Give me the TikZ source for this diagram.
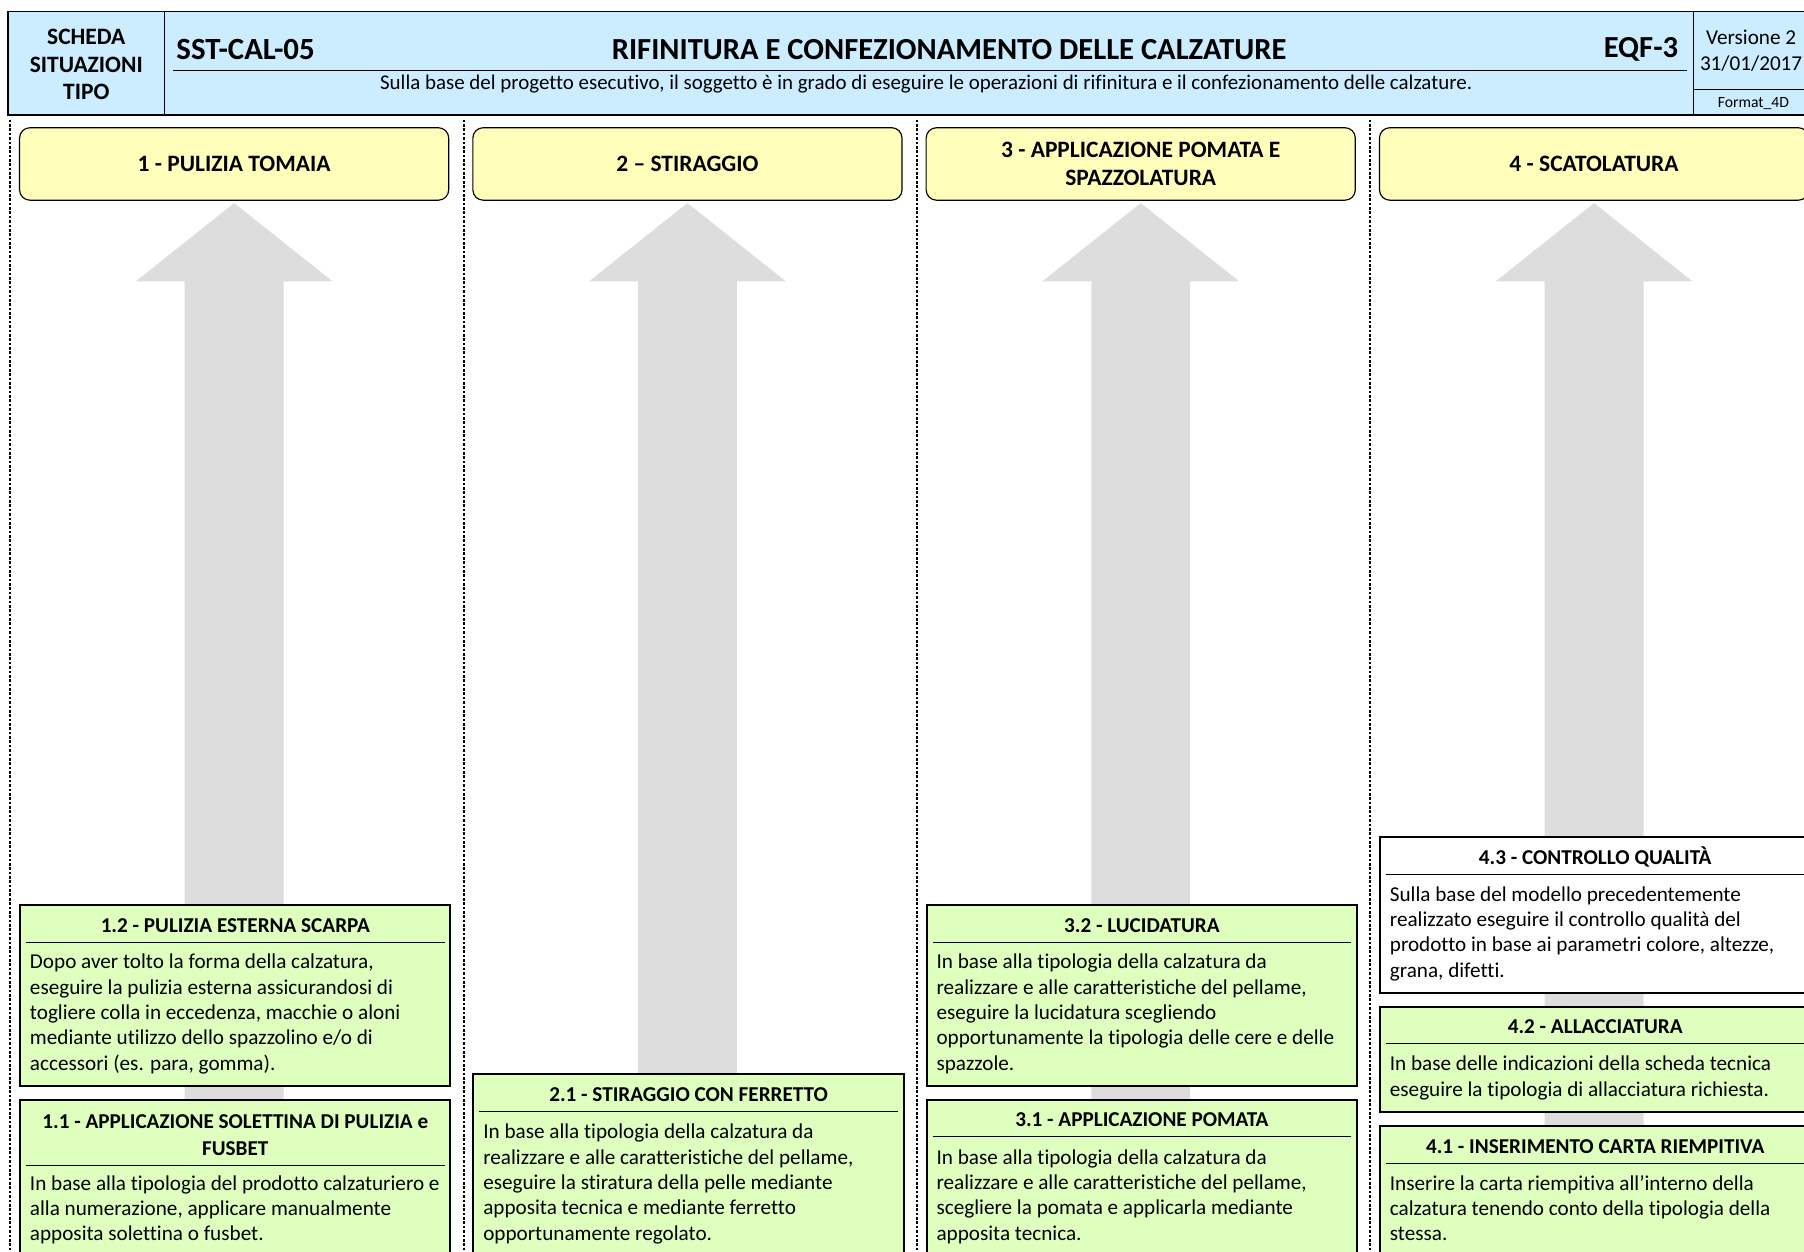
\documentclass[tikz,border=0pt]{standalone}
\usepackage{fontspec}
\setmainfont{Carlito}[Ligatures=NoCommon]
\usetikzlibrary{positioning}

\definecolor{headblue}{HTML}{CCECFF}
\definecolor{phaseyellow}{HTML}{FFFFBB}
\definecolor{cardgreen}{HTML}{DFFFBF}
\definecolor{arrowgray}{HTML}{DDDDDD}

\begin{document}
\begin{tikzpicture}[x=0.5pt, y=-0.5pt,
  every node/.style={inner sep=0pt},
  phase/.style={draw, line width=0.5pt, rounded corners=4.5pt, fill=phaseyellow,
    minimum width=186.5pt, minimum height=31.5pt, align=center,
    font=\bfseries\fontsize{10.2}{12.5}\selectfont},
  card/.style={draw, line width=0.85pt, fill=cardgreen, minimum width=187pt, anchor=north},
  cardtitle/.style={anchor=north, align=center, font=\bfseries\fontsize{9.2}{11.5}\selectfont,
    execute at begin node=\strut},
  cardbody/.style={anchor=north west, align=left, font=\fontsize{9.2}{11}\selectfont,
    execute at begin node=\strut},
  titlerule/.style={line width=0.5pt},
  colsep/.style={line width=0.85pt, dash pattern=on 1.15pt off 0.75pt},
  flowarrow/.style={fill=arrowgray}
]
  \clip (0,0) rectangle (1568,1088);

  % Header
  \draw[fill=headblue, line width=0.6pt] (7,10) rectangle (1620,100);
  \draw[line width=0.6pt] (143,10) -- (143,100);
  \draw[line width=0.6pt] (1472,10) -- (1472,100);
  \draw[line width=0.5pt] (150,61) -- (1466,61);
  \draw[line width=0.5pt] (1472,78) -- (1620,78);
  \node[align=center, font=\bfseries\fontsize{10.2}{12}\selectfont] (scheda) at (75,56) {SCHEDA\\SITUAZIONI\\TIPO};
  \node[anchor=west, font=\bfseries\fontsize{13.4}{15}\selectfont] (code) at (153,43) {SST-CAL-05};
  \node[font=\bfseries\fontsize{13.3}{15}\selectfont] (title) at (825,43) {RIFINITURA E CONFEZIONAMENTO DELLE CALZATURE};
  \node[anchor=east, font=\bfseries\fontsize{13.3}{15}\selectfont] (eqf) at (1459,43) {EQF-3};
  \node[font=\fontsize{9.1}{11}\selectfont] (subtitle) at (805,73) {Sulla base del progetto esecutivo, il soggetto è in grado di eseguire le operazioni di rifinitura e il confezionamento delle calzature.};
  \node[align=center, font=\fontsize{9.2}{11}\selectfont] (version) at (1522,44) {Versione 2\\31/01/2017};
  \node[font=\fontsize{6.8}{8}\selectfont] (format) at (1524,90) {Format\_4D};

  % Column separators
  \foreach \sx in {9,403,797,1191,1585}
    \draw[colsep] (\sx,104) -- (\sx,1088);

  % Phases
  \node[phase] (p1) at (203.5,142.5) {1 - PULIZIA TOMAIA};
  \node[phase] (p2) at (597.5,142.5) {2 – STIRAGGIO};
  \node[phase] (p3) at (991.5,142.5) {3 - APPLICAZIONE POMATA E\\SPAZZOLATURA};
  \node[phase] (p4) at (1385.5,142.5) {4 - SCATOLATURA};

  % Flow arrows
  \foreach \p in {p1,p2,p3,p4}
    \fill[flowarrow] ([yshift=-1pt]\p.south) -- ++(85.5,68) -- ++(-42.5,0) -- ++(0,900)
      -- ++(-86,0) -- ++(0,-900) -- ++(-42.5,0) -- cycle;

  % Column 1
  \node[card, minimum height=78.5pt] (c12) at (204.5,786) {};
  \node[cardtitle] (t12) at ([yshift=-3.9pt]c12.north) {1.2 - PULIZIA ESTERNA SCARPA};
  \draw[titlerule] ([xshift=3pt, yshift=-16.5pt]c12.north west) -- ([xshift=-3pt, yshift=-16.5pt]c12.north east);
  \node[cardbody] (b12) at ([xshift=4.5pt, yshift=-21.5pt]c12.north west) {Dopo aver tolto la forma della calzatura,\\eseguire la pulizia esterna assicurandosi di\\togliere colla in eccedenza, macchie o aloni\\mediante utilizzo dello spazzolino e/o di\\accessori (es. para, gomma).};

  \node[card, minimum height=72.5pt] (c11) at (204.5,955) {};
  \node[cardtitle] (t11) at ([yshift=-6.9pt]c11.north) {1.1 - APPLICAZIONE SOLETTINA DI PULIZIA e\\FUSBET};
  \draw[titlerule] ([xshift=3pt, yshift=-29pt]c11.north west) -- ([xshift=-3pt, yshift=-29pt]c11.north east);
  \node[cardbody] (b11) at ([xshift=4.5pt, yshift=-33.2pt]c11.north west) {In base alla tipologia del prodotto calzaturiero e\\alla numerazione, applicare manualmente\\apposita solettina o fusbet.};

  % Column 2
  \node[card, minimum height=83.5pt] (c21) at (598.5,933) {};
  \node[cardtitle] (t21) at ([yshift=-3.9pt]c21.north) {2.1 - STIRAGGIO CON FERRETTO};
  \draw[titlerule] ([xshift=3pt, yshift=-16.5pt]c21.north west) -- ([xshift=-3pt, yshift=-16.5pt]c21.north east);
  \node[cardbody] (b21) at ([xshift=4.5pt, yshift=-21.8pt]c21.north west) {In base alla tipologia della calzatura da\\realizzare e alle caratteristiche del pellame,\\eseguire la stiratura della pelle mediante\\apposita tecnica e mediante ferretto\\opportunamente regolato.};

  % Column 3
  \node[card, minimum height=78.5pt] (c32) at (992.5,786) {};
  \node[cardtitle] (t32) at ([yshift=-3.9pt]c32.north) {3.2 - LUCIDATURA};
  \draw[titlerule] ([xshift=3pt, yshift=-16.5pt]c32.north west) -- ([xshift=-3pt, yshift=-16.5pt]c32.north east);
  \node[cardbody] (b32) at ([xshift=4.5pt, yshift=-21.5pt]c32.north west) {In base alla tipologia della calzatura da\\realizzare e alle caratteristiche del pellame,\\eseguire la lucidatura scegliendo\\opportunamente la tipologia delle cere e delle\\spazzole.};

  \node[card, minimum height=72.5pt] (c31) at (992.5,955) {};
  \node[cardtitle] (t31) at ([yshift=-3.9pt]c31.north) {3.1 - APPLICAZIONE POMATA};
  \draw[titlerule] ([xshift=3pt, yshift=-16.5pt]c31.north west) -- ([xshift=-3pt, yshift=-16.5pt]c31.north east);
  \node[cardbody] (b31) at ([xshift=4.5pt, yshift=-21.8pt]c31.north west) {In base alla tipologia della calzatura da\\realizzare e alle caratteristiche del pellame,\\scegliere la pomata e applicarla mediante\\apposita tecnica.};

  % Column 4
  \node[card, fill=white, minimum height=67.5pt] (c43) at (1386.5,727) {};
  \node[cardtitle] (t43) at ([yshift=-3.9pt]c43.north) {4.3 - CONTROLLO QUALITÀ};
  \draw[titlerule] ([xshift=3pt, yshift=-16.5pt]c43.north west) -- ([xshift=-3pt, yshift=-16.5pt]c43.north east);
  \node[cardbody] (b43) at ([xshift=4.5pt, yshift=-21.5pt]c43.north west) {Sulla base del modello precedentemente\\realizzato eseguire il controllo qualità del\\prodotto in base ai parametri colore, altezze,\\grana, difetti.};

  \node[card, minimum height=46pt] (c42) at (1386.5,874) {};
  \node[cardtitle] (t42) at ([yshift=-3.9pt]c42.north) {4.2 - ALLACCIATURA};
  \draw[titlerule] ([xshift=3pt, yshift=-16.5pt]c42.north west) -- ([xshift=-3pt, yshift=-16.5pt]c42.north east);
  \node[cardbody] (b42) at ([xshift=4.5pt, yshift=-21.8pt]c42.north west) {In base delle indicazioni della scheda tecnica\\eseguire la tipologia di allacciatura richiesta.};

  \node[card, minimum height=61pt] (c41) at (1386.5,978) {};
  \node[cardtitle] (t41) at ([yshift=-3.9pt]c41.north) {4.1 - INSERIMENTO CARTA RIEMPITIVA};
  \draw[titlerule] ([xshift=3pt, yshift=-16.5pt]c41.north west) -- ([xshift=-3pt, yshift=-16.5pt]c41.north east);
  \node[cardbody] (b41) at ([xshift=4.5pt, yshift=-21.5pt]c41.north west) {Inserire la carta riempitiva all’interno della\\calzatura tenendo conto della tipologia della\\stessa.};
\end{tikzpicture}
\end{document}
